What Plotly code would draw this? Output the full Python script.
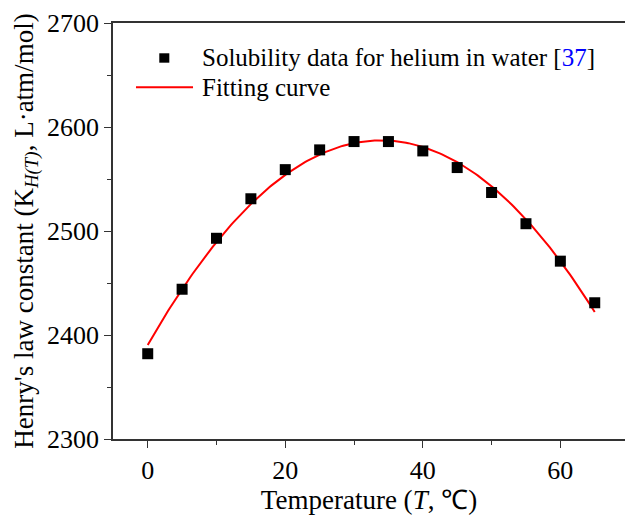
import numpy as np
import plotly.graph_objects as go

# Solubility of helium in water: Henry's law constant vs temperature
temperature_c = [0, 5, 10, 15, 20, 25, 30, 35, 40, 45, 50, 55, 60, 65]
henry_constant = [2382, 2444, 2493, 2531, 2559, 2578, 2586, 2586, 2577, 2561, 2537, 2507, 2471, 2431]

x_ticks = [0, 20, 40, 60]
y_ticks = [2300, 2400, 2500, 2600, 2700]

# Quadratic least-squares fit through the measured points
coef = np.polyfit(temperature_c, henry_constant, 2)
fit_x = np.linspace(min(temperature_c), max(temperature_c), 200)
fit_y = np.polyval(coef, fit_x)

FONT = "Times New Roman, serif"
AXIS_COLOR = "#333333"

fig = go.Figure()
fig.add_trace(go.Scatter(
    x=fit_x, y=fit_y, mode="lines",
    line=dict(color="#ff0000", width=2),
    name="Fitting curve", showlegend=False,
))
fig.add_trace(go.Scatter(
    x=temperature_c, y=henry_constant, mode="markers",
    marker=dict(symbol="square", size=11, color="black"),
    name="Solubility data for helium in water [37]", showlegend=False,
))

# Legend drawn in paper space: a square glyph, a line sample and labels
fig.add_shape(type="rect", xref="paper", yref="paper",
              x0=0.0904, x1=0.1100, y0=0.9046, y1=0.9272,
              fillcolor="black", line=dict(width=0))
fig.add_shape(type="line", xref="paper", yref="paper",
              x0=0.0449, x1=0.1563, y0=0.8454, y1=0.8454,
              line=dict(color="#ff0000", width=2))
fig.add_annotation(xref="paper", yref="paper", x=0.170, y=0.918,
                   xanchor="left", yanchor="middle", showarrow=False,
                   text='Solubility data for helium in water [<span style="color:#0000ff">37</span>]',
                   font=dict(family=FONT, size=25, color="black"))
fig.add_annotation(xref="paper", yref="paper", x=0.170, y=0.844,
                   xanchor="left", yanchor="middle", showarrow=False,
                   text="Fitting curve",
                   font=dict(family=FONT, size=25, color="black"))

fig.update_layout(
    width=625, height=519,
    margin=dict(l=113, r=0, t=23, b=80),
    paper_bgcolor="white", plot_bgcolor="white",
    font=dict(family=FONT, size=26, color="black"),
    showlegend=False,
)
fig.update_xaxes(
    range=[-5.05, 69.4], tickvals=x_ticks, ticks="outside", ticklen=7,
    tickwidth=1.3, tickcolor=AXIS_COLOR, showline=True, linecolor=AXIS_COLOR,
    linewidth=1.6, mirror=True, showgrid=False, zeroline=False,
    minor=dict(dtick=10, tick0=0, ticks="outside", ticklen=4, tickwidth=1.3, tickcolor=AXIS_COLOR),
    tickfont=dict(family=FONT, size=26),
    title=dict(text="Temperature (<i>T</i>, ℃)", font=dict(family=FONT, size=27), standoff=6),
)
fig.update_yaxes(
    range=[2300, 2700], tickvals=y_ticks, ticks="outside", ticklen=7,
    tickwidth=1.3, tickcolor=AXIS_COLOR, showline=True, linecolor=AXIS_COLOR,
    linewidth=1.6, mirror=False, showgrid=False, zeroline=False,
    minor=dict(dtick=50, tick0=2300, ticks="outside", ticklen=4, tickwidth=1.3, tickcolor=AXIS_COLOR),
    tickfont=dict(family=FONT, size=26),
    title=dict(text="Henry's law constant (K<sub><i>H(T)</i></sub>, L·atm/mol)",
               font=dict(family=FONT, size=27), standoff=6),
)

fig.write_html("out.html")
